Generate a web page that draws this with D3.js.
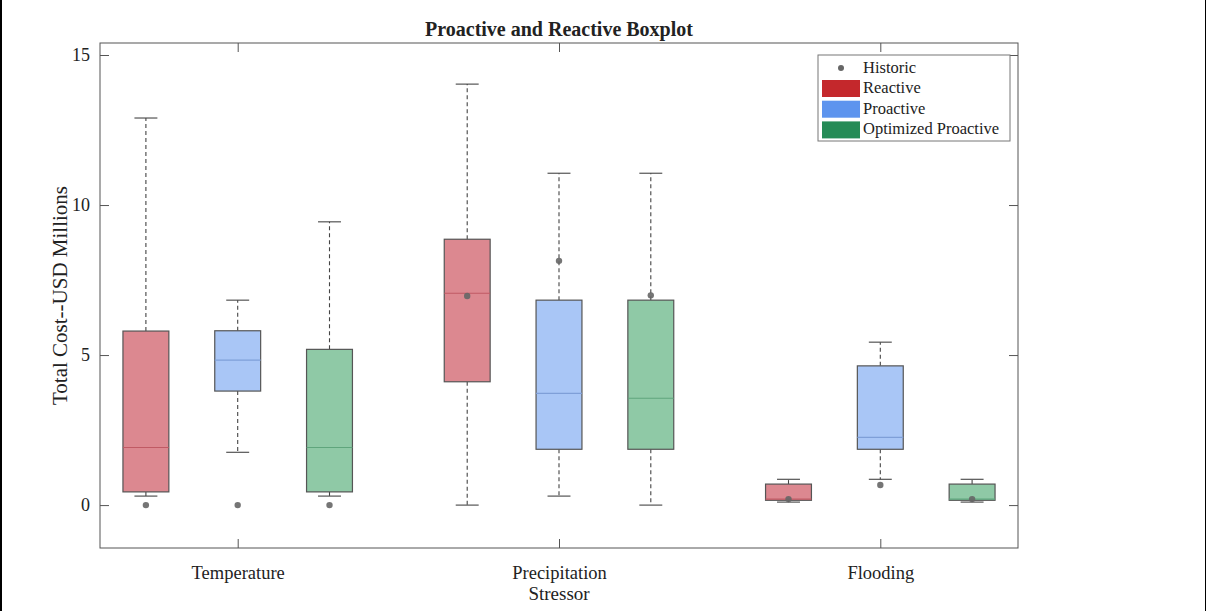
<!DOCTYPE html>
<html>
<head>
<meta charset="utf-8">
<script src="https://cdn.jsdelivr.net/npm/d3@7"></script>
<style>
  html, body { margin: 0; padding: 0; background: #fff; }
  svg { display: block; }
  text { font-family: "Liberation Serif", "Times New Roman", serif; fill: #222; }
</style>
</head>
<body>
<svg id="chart" width="1206" height="611"></svg>
<script>
// ---- data ----
const categories = ["Temperature", "Precipitation", "Flooding"];
const seriesNames = ["Reactive", "Proactive", "Optimized Proactive"];
// [lower whisker, Q1, median, Q3, upper whisker] per category
const reactiveStats  = [[0.30, 0.44, 1.92, 5.80, 12.90], [0.00, 4.11, 7.06, 8.86, 14.03], [0.10, 0.16, 0.20, 0.70, 0.86]];
const proactiveStats = [[1.76, 3.80, 4.83, 5.81, 6.83],  [0.30, 1.86, 3.72, 6.83, 11.06], [0.86, 1.86, 2.26, 4.64, 5.43]];
const optimizedStats = [[0.30, 0.44, 1.92, 5.19, 9.44],  [0.00, 1.86, 3.56, 6.83, 11.06], [0.10, 0.16, 0.20, 0.70, 0.86]];
// historic values per category
const reactiveHistoric  = [0.00, 6.97, 0.20];
const proactiveHistoric = [0.00, 8.14, 0.67];
const optimizedHistoric = [0.00, 6.99, 0.20];
const yTicks = [0, 5, 10, 15];
const titleText = "Proactive and Reactive Boxplot";
const yLabel = "Total Cost--USD Millions";
const xLabel = "Stressor";

// ---- styles ----
const fillColors   = ["#dc8890", "#a9c6f6", "#8fc9a6"];
const medianColors = ["#c05a64", "#7f9fd8", "#5fa57c"];
const legendColors = ["#c4282c", "#5d94ee", "#258b56"];

const svg = d3.select("#chart");
const W = 1206, H = 611;
const m = { left: 100, right: 1018, top: 43, bottom: 548 };

// image border lines
svg.append("rect").attr("x", 0).attr("y", 0).attr("width", 2).attr("height", H).attr("fill", "#000");
svg.append("rect").attr("x", 1205).attr("y", 0).attr("width", 1).attr("height", H).attr("fill", "#000");

// slot position: group gap of 1.5 slots
const slotPos = (ci, si) => 1 + ci * 3.5 + si;
const x = d3.scaleLinear().domain([0.5, 10.5]).range([m.left, m.right]);
const y = d3.scaleLinear().domain([-1.43, 15.4]).range([m.bottom, m.top]);
const boxW = x(1.5) - x(1);   // half a slot

const allStats = [reactiveStats, proactiveStats, optimizedStats];
const allHist = [reactiveHistoric, proactiveHistoric, optimizedHistoric];

// axes frame
const axisColor = "#555";
svg.append("rect").attr("x", m.left).attr("y", m.top)
  .attr("width", m.right - m.left).attr("height", m.bottom - m.top)
  .attr("fill", "none").attr("stroke", axisColor).attr("stroke-width", 1);

// y axis ticks (left + right, inward)
const yAxisL = d3.axisLeft(y).tickValues(yTicks).tickSize(-9).tickPadding(10).tickFormat(d3.format("d"));
const gyl = svg.append("g").attr("transform", `translate(${m.left},0)`).call(yAxisL);
gyl.select(".domain").remove();
gyl.selectAll(".tick line").attr("stroke", axisColor);
gyl.selectAll(".tick text").style("font-size", "18px").attr("fill", "#222");

const yAxisR = d3.axisRight(y).tickValues(yTicks).tickSize(-9).tickFormat("");
const gyr = svg.append("g").attr("transform", `translate(${m.right},0)`).call(yAxisR);
gyr.select(".domain").remove();
gyr.selectAll(".tick line").attr("stroke", axisColor);

// x axis ticks at category centers
const catCenters = categories.map((c, i) => slotPos(i, 1));
const xAxisB = d3.axisBottom(x).tickValues(catCenters).tickSize(-9).tickPadding(18)
  .tickFormat((d, i) => categories[i]);
const gxb = svg.append("g").attr("transform", `translate(0,${m.bottom})`).call(xAxisB);
gxb.select(".domain").remove();
gxb.selectAll(".tick line").attr("stroke", axisColor);
gxb.selectAll(".tick text").style("font-size", "18.5px").attr("fill", "#222");

const xAxisT = d3.axisTop(x).tickValues(catCenters).tickSize(-9).tickFormat("");
const gxt = svg.append("g").attr("transform", `translate(0,${m.top})`).call(xAxisT);
gxt.select(".domain").remove();
gxt.selectAll(".tick line").attr("stroke", axisColor);

// boxes
const plot = svg.append("g");
allStats.forEach((stats, si) => {
  stats.forEach((s, ci) => {
    const cx = x(slotPos(ci, si));
    const [lo, q1, med, q3, hi] = s;
    const g = plot.append("g");
    // whiskers
    g.append("line").attr("x1", cx).attr("x2", cx).attr("y1", y(q3)).attr("y2", y(hi))
      .attr("stroke", "#444").attr("stroke-dasharray", "4,3").attr("stroke-width", 1.1);
    g.append("line").attr("x1", cx).attr("x2", cx).attr("y1", y(q1)).attr("y2", y(lo))
      .attr("stroke", "#444").attr("stroke-dasharray", "4,3").attr("stroke-width", 1.1);
    // caps
    [lo, hi].forEach(v => {
      g.append("line").attr("x1", cx - boxW / 4).attr("x2", cx + boxW / 4)
        .attr("y1", y(v)).attr("y2", y(v)).attr("stroke", "#444").attr("stroke-width", 1.1);
    });
    // box
    g.append("rect").attr("x", cx - boxW / 2).attr("y", y(q3))
      .attr("width", boxW).attr("height", y(q1) - y(q3))
      .attr("fill", fillColors[si]).attr("stroke", "#555").attr("stroke-width", 1.2);
    // median
    g.append("line").attr("x1", cx - boxW / 2).attr("x2", cx + boxW / 2)
      .attr("y1", y(med)).attr("y2", y(med))
      .attr("stroke", medianColors[si]).attr("stroke-width", 1.2);
    // historic
    g.append("circle").attr("cx", cx).attr("cy", y(allHist[si][ci])).attr("r", 3.2)
      .attr("fill", "#666").attr("fill-opacity", 0.9);
  });
});

// title and labels
svg.append("text").attr("x", (m.left + m.right) / 2).attr("y", 36)
  .attr("text-anchor", "middle").style("font-size", "20px").style("font-weight", "bold")
  .attr("fill", "#111").text(titleText);
svg.append("text").attr("transform", `translate(67,${(m.top + m.bottom) / 2}) rotate(-90)`)
  .attr("text-anchor", "middle").style("font-size", "21px").text(yLabel);
svg.append("text").attr("x", x(catCenters[1])).attr("y", 600)
  .attr("text-anchor", "middle").style("font-size", "19px").text(xLabel);

// legend
const lg = svg.append("g");
lg.append("rect").attr("x", 818).attr("y", 55).attr("width", 192).attr("height", 86)
  .attr("fill", "#fff").attr("stroke", "#777").attr("stroke-width", 1);
lg.append("circle").attr("cx", 841).attr("cy", 68).attr("r", 3).attr("fill", "#666");
lg.append("text").attr("x", 863).attr("y", 73).style("font-size", "16.5px").text("Historic");
seriesNames.forEach((nm, i) => {
  const yc = 88 + i * 20.7;
  lg.append("rect").attr("x", 822).attr("y", yc - 8).attr("width", 38).attr("height", 17)
    .attr("fill", legendColors[i]);
  lg.append("text").attr("x", 863).attr("y", yc + 5).style("font-size", "16.5px").text(nm);
});
</script>
</body>
</html>
